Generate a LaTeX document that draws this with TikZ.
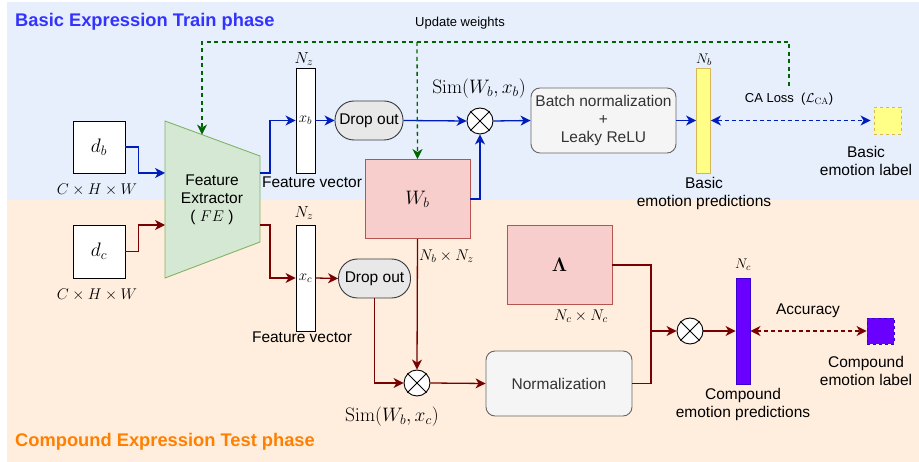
\RequirePackage{fix-cm}
\documentclass[tikz,border=0pt]{standalone}
\usepackage[no-math]{fontspec}
\setmainfont{Liberation Sans}
\usetikzlibrary{arrows.meta,calc}
\definecolor{bgblue}{RGB}{231,239,252}
\definecolor{bgorange}{RGB}{255,238,222}
\definecolor{titleblue}{RGB}{51,51,255}
\definecolor{titleorange}{RGB}{255,128,0}
\definecolor{lblue}{RGB}{0,29,188}
\definecolor{lred}{RGB}{120,0,0}
\definecolor{lgreen}{RGB}{0,100,0}
\definecolor{fefill}{RGB}{213,232,212}
\definecolor{fedraw}{RGB}{130,179,102}
\definecolor{wfill}{RGB}{248,206,204}
\definecolor{wdraw}{RGB}{184,84,80}
\definecolor{gfill}{RGB}{245,245,245}
\definecolor{gdraw}{RGB}{102,102,102}
\definecolor{gtext}{RGB}{51,51,51}
\definecolor{dfill}{RGB}{232,232,232}
\definecolor{ddraw}{RGB}{54,57,61}
\definecolor{yfill}{RGB}{255,255,136}
\definecolor{ydraw}{RGB}{214,182,86}
\definecolor{pfill}{RGB}{106,0,255}
\definecolor{pdraw}{RGB}{55,0,204}
\tikzset{
  txt/.style={font=\fontsize{15.5}{18}\selectfont, align=center, inner sep=0},
  smalltxt/.style={font=\fontsize{13}{15}\selectfont, align=center, inner sep=0},
  bigmath/.style={font=\fontsize{19.5}{21}\selectfont, inner sep=0},
  nlab/.style={font=\fontsize{16}{18}\selectfont, inner sep=0},
  inbox/.style={draw=black, fill=white, line width=0.9pt, minimum width=52pt, minimum height=52pt, inner sep=0, font=\fontsize{19.5}{20}\selectfont},
  vecbox/.style={draw=black, fill=white, line width=0.9pt, minimum width=19pt, minimum height=105pt, inner sep=0, font=\fontsize{15}{16}\selectfont},
  dropbox/.style={draw=ddraw, fill=dfill, line width=0.9pt, rounded corners=19pt, minimum height=39pt, inner sep=0, font=\fontsize{15.5}{18}\selectfont},
  matbox/.style={draw=wdraw, fill=wfill, line width=0.9pt, minimum width=105pt, minimum height=79pt, inner sep=0, font=\fontsize{19.5}{20}\selectfont},
  procbox/.style={draw=gdraw, fill=gfill, line width=0.9pt, rounded corners=9pt, minimum height=65pt, inner sep=0, text=gtext, align=center, font=\fontsize{15.5}{18}\selectfont},
  otimes/.style={circle, draw=black, fill=white, line width=0.9pt, minimum size=26pt, inner sep=0},
  ybar/.style={draw=ydraw, fill=yfill, line width=0.9pt, minimum width=14pt, minimum height=105pt, inner sep=0},
  pbar/.style={draw=pdraw, fill=pfill, line width=0.9pt, minimum width=14pt, minimum height=106pt, inner sep=0},
  tip/.style={-{Stealth[length=10pt,width=10pt,inset=3pt]}},
  dtip/.style={{Stealth[length=10pt,width=10pt,inset=3pt]}-{Stealth[length=10pt,width=10pt,inset=3pt]}},
  bl/.style={draw=lblue, line width=1.3pt},
  rd/.style={draw=lred, line width=1.3pt},
  gr/.style={draw=lgreen, line width=1.3pt, dash pattern=on 4pt off 3.5pt},
}
\newcommand{\xcross}[1]{\draw[line width=0.9pt] (#1.north west) -- (#1.south east) (#1.north east) -- (#1.south west);}
\begin{document}
\begin{tikzpicture}[x=1pt,y=-1pt]
\useasboundingbox (0,0) rectangle (919,462);
% backgrounds
\fill[bgblue] (7,2) rectangle (919,200);
\fill[bgorange] (7,200) rectangle (919,462);
\node[anchor=west, text=titleblue, font=\fontsize{18.3}{20}\selectfont\bfseries, inner sep=0] (t1) at (15,22) {Basic Expression Train phase};
\node[anchor=west, text=titleorange, font=\fontsize{18.3}{20}\selectfont\bfseries, inner sep=0] (t2) at (15,442) {Compound Expression Test phase};

% inputs
\node[inbox] (db) at (99,147) {$d_b$};
\node[inbox, minimum height=53pt] (dc) at (99,251.5) {$d_c$};
\node[txt] (db-l) at (97,190) {$C\times H\times W$};
\node[txt] (dc-l) at (97,295) {$C\times H\times W$};

% feature extractor
\draw[draw=fedraw, fill=fefill, line width=0.9pt] (165,121) -- (260,156) -- (260,242) -- (165,278) -- cycle;
\node[txt] (fe) at (212,200) {Feature\\Extractor\\( $FE$ )};
\coordinate (feIn1) at (165,173);
\coordinate (feIn2) at (165,225);
\coordinate (feOut1) at (260,173);
\coordinate (feOut2) at (260,225);
\coordinate (feTop) at (202,134.6);

% feature vectors
\node[vecbox] (xb) at (305.5,120.5) {$x_b$};
\node[nlab] (xb-n) at (304,59) {$N_z$};
\node[txt] (xb-l) at (312,182) {Feature vector};
\node[vecbox, minimum height=106pt] (xc) at (305.5,278) {$x_c$};
\node[nlab] (xc-n) at (304,213) {$N_z$};
\node[txt] (xc-l) at (302,337) {Feature vector};

% drop outs
\node[dropbox, minimum width=68pt] (drop1) at (369,120.5) {Drop out};
\node[dropbox, minimum width=72pt] (drop2) at (374.5,278.5) {Drop out};

% weight matrices
\node[matbox] (wb) at (417.5,199) {$W_b$};
\node[smalltxt, font=\fontsize{15.5}{17}\selectfont, anchor=west] (wb-l) at (419,256) {$N_b\times N_z$};
\node[matbox] (lam) at (559.5,265) {$\mathbf{\Lambda}$};
\node[txt] (lam-l) at (581,316) {$N_c\times N_c$};

% otimes
\node[otimes] (c1) at (480,121) {};
\xcross{c1}
\node[bigmath] (c1-l) at (479,89) {$\mathrm{Sim}(W_b, x_b)$};
\node[otimes] (c2) at (417,383) {};
\xcross{c2}
\node[bigmath] (c2-l) at (392,417) {$\mathrm{Sim}(W_b, x_c)$};
\node[otimes] (c3) at (690,331) {};
\xcross{c3}

% process boxes
\node[procbox, minimum width=145pt] (bn) at (603.5,120.5) {Batch normalization\\+\\Leaky ReLU};
\node[procbox, minimum width=146pt] (norm) at (559,383.5) {Normalization};

% output bars
\node[ybar] (nb) at (703.5,120.5) {};
\node[nlab, font=\fontsize{14}{16}\selectfont] (nb-n) at (704,60) {$N_b$};
\node[txt] (nb-l) at (704,193) {Basic\\emotion predictions};
\node[pbar] (nc) at (743,331) {};
\node[nlab, font=\fontsize{14}{16}\selectfont] (nc-n) at (743,265) {$N_c$};
\node[txt] (nc-l) at (743,404) {Compound\\emotion predictions};

% labels
\node[draw=ydraw, fill=yfill, dashed, line width=0.9pt, minimum size=27pt, inner sep=0] (lb1) at (887.5,120.5) {};
\node[txt] (lb1-l) at (866,160.5) {Basic\\emotion label};
\node[draw=pdraw, fill=pfill, dashed, line width=0.9pt, minimum width=27pt, minimum height=26pt, inner sep=0] (lb2) at (880.5,331) {};
\node[txt] (lb2-l) at (866,370.5) {Compound\\emotion label};
\node[smalltxt] (ca) at (789,99) {CA Loss ~($\mathcal{L}_{\mathrm{CA}}$)};
\node[txt] (acc) at (808,311) {Accuracy};
\node[smalltxt] (uw) at (460,23) {Update weights};

% blue connectors
\draw[bl, tip] (db.east) -- ++(13,0) |- (feIn1);
\draw[bl, tip] (feOut1) -- ++(10,0) |- (xb.west);
\draw[bl, tip] (xb.east) -- (drop1.west);
\draw[bl, tip] (drop1.east) -- (c1.west);
\draw[bl, tip] (wb.east) -| (c1.south);
\draw[bl, tip] (c1.east) -- (bn.west);
\draw[bl, tip] (bn.east) -- (nb.west);
\draw[draw=lblue, line width=1.3pt, dash pattern=on 4pt off 3pt, dtip, shorten >=3pt] (nb.east) -- (lb1.west);

% green update path
\coordinate (caTop) at (789,86);
\coordinate (g1) at (789,42);
\coordinate (g2) at (202,42);
\coordinate (g3) at (417,42);
\draw[gr, tip] (caTop) -- (g1) -- (g2) -- (feTop);
\draw[gr, tip] (g3) -- (wb.north);

% red connectors
\draw[rd, tip] (dc.east) -- ++(13,0) |- (feIn2);
\draw[rd, tip] (feOut2) -- ++(10,0) |- (xc.west);
\draw[rd, tip] (xc.east) -- (drop2.west);
\draw[rd, tip] (drop2.south) |- (c2.west);
\draw[rd, tip] (wb.south) -- (c2.north);
\draw[rd, tip] (c2.east) -- (norm.west);
\coordinate (j) at (651,331);
\draw[rd, tip] (lam.east) -| (j) -- (c3.west);
\draw[rd] (norm.east) -| (j);
\draw[rd, tip] (c3.east) -- (nc.west);
\draw[draw=lred, line width=1.3pt, dash pattern=on 4pt off 3pt, dtip] (nc.east) -- (lb2.west);
\end{tikzpicture}
\end{document}
